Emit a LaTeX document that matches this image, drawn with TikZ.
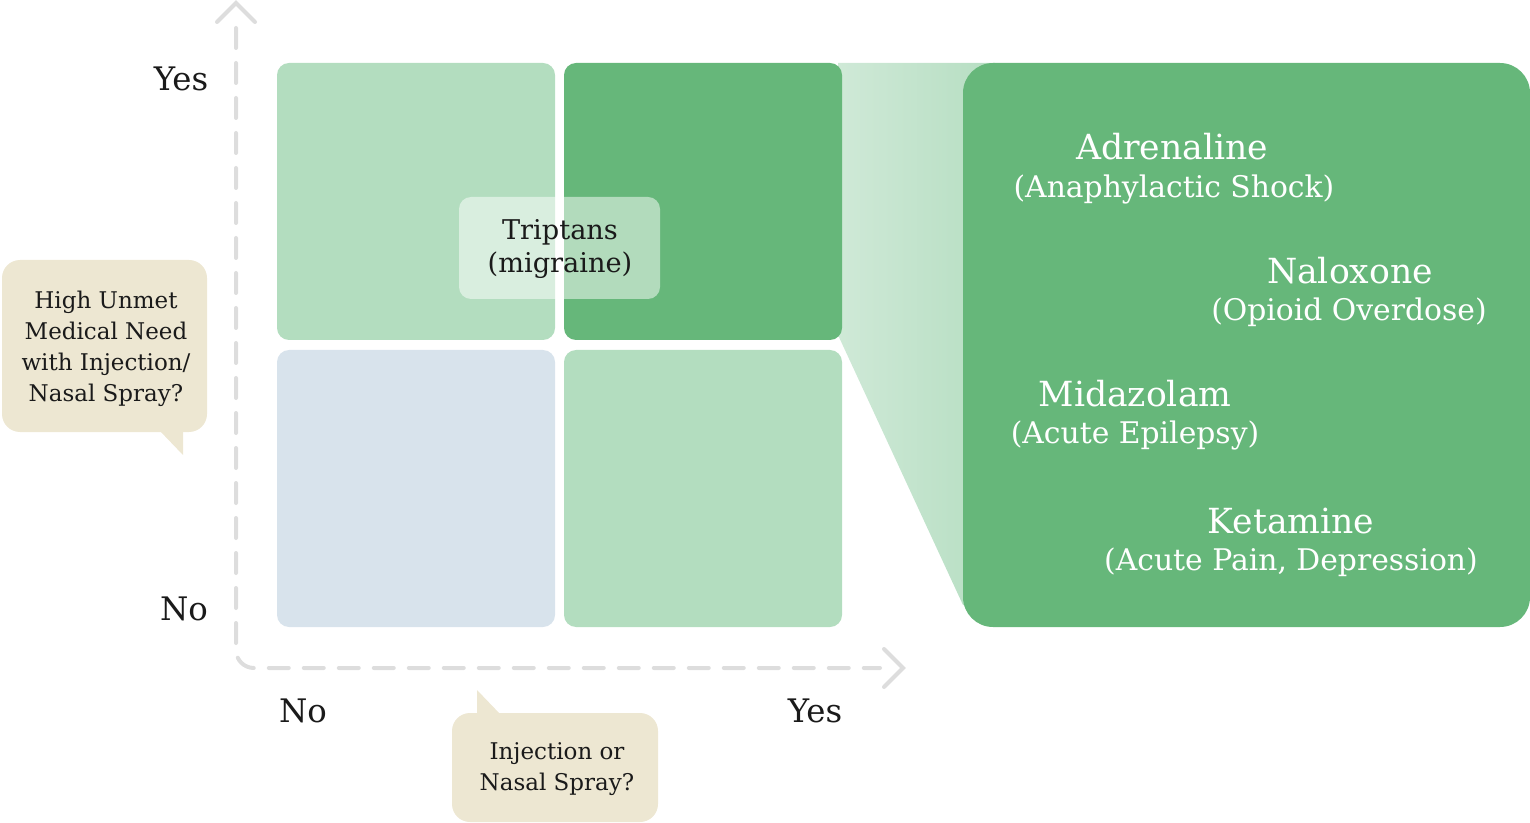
\documentclass[tikz,border=0pt]{standalone}
\usepackage{fontspec}
\setmainfont{DejaVu Serif}
\definecolor{dkgreen}{HTML}{66B77A}
\definecolor{ltgreen}{HTML}{B3DDBF}
\definecolor{bluegrey}{HTML}{D8E3EC}
\definecolor{beige}{HTML}{EDE7D2}
\definecolor{axisgrey}{HTML}{DDDDDD}
\definecolor{funnelL}{HTML}{CFE9D7}
\definecolor{funnelR}{HTML}{B6DEC2}
\definecolor{txt}{HTML}{1A1A1A}
\begin{document}
\begin{tikzpicture}[x=0.5pt,y=-0.5pt,
  quad/.style={rounded corners=6pt},
  axisline/.style={draw=axisgrey, line width=2pt, line cap=round},
  axislbl/.style={font=\fontsize{16.2}{19}\selectfont, text=txt, anchor=base},
  callouttxt/.style={font=\fontsize{11.5}{15.5}\selectfont, text=txt, align=center},
  drugname/.style={font=\fontsize{17.3}{20}\selectfont, text=white, anchor=base},
  drugdesc/.style={font=\fontsize{14.9}{17}\selectfont, text=white, anchor=base}]
\useasboundingbox (0,0) rectangle (1530,823);
% funnel
\shade[left color=funnelL, right color=funnelR] (838,63) -- (995,63) -- (995,605) -- (963,605) -- (838,335) -- cycle;
% quadrants
\fill[quad, ltgreen] (277,63) rectangle (555,340);
\fill[quad, dkgreen] (564,63) rectangle (842,340);
\fill[quad, bluegrey] (277,350) rectangle (555,627);
\fill[quad, ltgreen] (564,350) rectangle (842,627);
% zoom panel
\fill[dkgreen, rounded corners=15pt] (963,63) rectangle (1530,627);
% triptans box
\fill[white, opacity=0.5, rounded corners=6pt] (459,197) rectangle (660,299);
\node[font=\fontsize{13.6}{16.5}\selectfont, text=txt, align=center] (trip) at (560,249) {Triptans\\(migraine)};
% axes
\draw[axisline, dash pattern=on 10pt off 7.5pt, rounded corners=9pt] (236,28) -- (236,668) -- (880,668);
\draw[axisline] (217,22) -- (236,3) -- (255,22);
\draw[axisline] (884,649) -- (903,668) -- (884,687);
% axis labels
\node[axislbl] (yesL) at (181,91) {Yes};
\node[axislbl] (noL) at (184,620) {No};
\node[axislbl] (noB) at (303,722) {No};
\node[axislbl] (yesB) at (815,722) {Yes};
% left callout
\fill[beige, rounded corners=9pt] (2,260) rectangle (207,432);
\fill[beige] (159,430) -- (183,430) -- (183,455) -- cycle;
\node[callouttxt] (qy) at (106,349) {High Unmet\\Medical Need\\with Injection/\\Nasal Spray?};
% bottom callout
\fill[beige, rounded corners=9pt] (452,713) rectangle (658,822);
\fill[beige] (477,715) -- (477,690) -- (501,715) -- cycle;
\node[callouttxt] (qx) at (557,769) {Injection or\\Nasal Spray?};
% panel texts
\node[drugname] (adr) at (1172,160) {Adrenaline};
\node[drugdesc] (adrd) at (1174,198) {(Anaphylactic Shock)};
\node[drugname] (nal) at (1350,284) {Naloxone};
\node[drugdesc] (nald) at (1349,321) {(Opioid Overdose)};
\node[drugname] (mid) at (1135,407) {Midazolam};
\node[drugdesc] (midd) at (1135,444) {(Acute Epilepsy)};
\node[drugname] (ket) at (1291,533) {Ketamine};
\node[drugdesc] (ketd) at (1291,570) {(Acute Pain, Depression)};
\end{tikzpicture}
\end{document}
